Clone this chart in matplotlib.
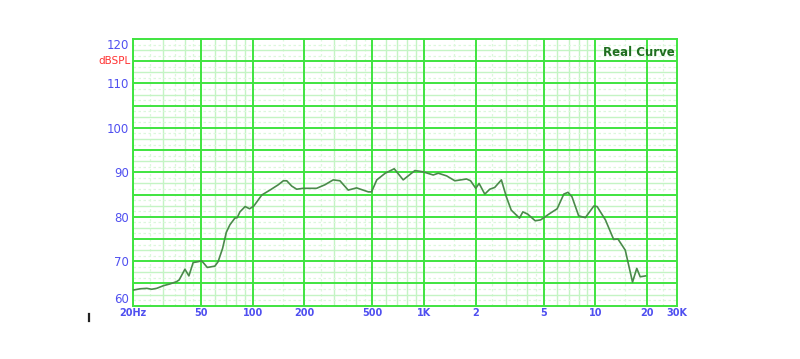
import matplotlib
matplotlib.use('Agg')
import matplotlib.pyplot as plt
from matplotlib.lines import Line2D
import numpy as np

# frequency response (Hz, dB SPL)
freq = [20, 22, 24.1, 25.7, 27.5, 30.1, 32.9, 35.9, 37.2, 40.2, 42.4, 44.9, 48.0, 50.3,
        51.9, 54.3, 60.1, 62.8, 66.7, 70.1, 73.6, 78.7, 81.2, 84.2, 90.3, 95.9, 101.4,
        113, 126, 141, 151, 158, 169, 180.6, 197, 216, 236, 264, 295, 323, 361, 404,
        473, 494, 530, 594, 670, 756, 885, 990, 1132, 1212, 1355, 1514, 1772, 1870,
        2005, 2097, 2264, 2421, 2588, 2830, 3025, 3230, 3610, 3776, 4030, 4460, 4800,
        5360, 5990, 6550, 6930, 7310, 8000, 8750, 9800, 10250, 11460, 12800, 13560,
        14960, 16500, 17470, 18290, 19660]
spl = [63.5, 63.8, 63.9, 63.7, 63.9, 64.5, 64.9, 65.4, 65.8, 68.2, 66.7, 69.7, 69.9, 70.1,
       69.5, 68.6, 68.9, 69.9, 72.9, 76.5, 78.2, 79.7, 79.8, 81.1, 82.3, 81.8, 82.4,
       84.9, 86.0, 87.2, 88.1, 88.1, 86.9, 86.2, 86.4, 86.4, 86.4, 87.2, 88.3, 88.1,
       86.0, 86.5, 85.6, 85.6, 88.3, 89.8, 90.8, 88.3, 90.4, 90.1, 89.4, 89.8, 89.2,
       88.1, 88.5, 88.1, 86.4, 87.5, 85.1, 86.2, 86.6, 88.3, 84.5, 81.5, 79.7, 81.1,
       80.6, 79.1, 79.3, 80.6, 81.8, 85.1, 85.5, 84.5, 80.2, 79.8, 82.4, 82.3, 79.3,
       74.9, 75.0, 72.5, 65.3, 68.4, 66.5, 66.7]

x_major = [20, 50, 100, 200, 500, 1000, 2000, 5000, 10000, 20000]
x_labels = ['20Hz', '50', '100', '200', '500', '1K', '2', '5', '10', '20', '30K']
y_labels = [60, 70, 80, 90, 100, 110, 120]

fig = plt.figure(figsize=(8, 3.59), dpi=100)
ax = fig.add_axes([0.16625, 0.1485, 0.68, 0.743])
ax.set_xscale('log')
ax.set_xlim(20, 30000)
ax.set_ylim(60, 120)

major_c = '#3fe43f'
minor_c = '#c4f4c4'
faint_c = '#dcf8dc'

# vertical grid
for dec in [10, 100, 1000, 10000]:
    for m in range(2, 10):
        f = m * dec
        if 20 < f < 30000 and f not in x_major:
            ax.axvline(f, color=minor_c, lw=1.0, zorder=1)
    for m in [1.5, 2.5, 3.5, 4.5]:
        f = m * dec
        if 20 < f < 30000:
            ax.axvline(f, color=faint_c, lw=0.9, ls=(0, (2, 2)), zorder=1)
for f in x_major:
    ax.axvline(f, color=major_c, lw=1.4, zorder=2)

# horizontal grid
for v in np.arange(61.25, 120, 1.25):
    if v % 5 == 0:
        ax.axhline(v, color=major_c, lw=1.4, zorder=2)
    elif v % 2.5 == 0:
        ax.axhline(v, color=minor_c, lw=1.0, zorder=1)
    else:
        ax.axhline(v, color=faint_c, lw=0.9, ls=(0, (2, 2)), zorder=1)

for s in ax.spines.values():
    s.set_color(major_c)
    s.set_linewidth(1.4)

ax.plot(freq, spl, color='#4a8a4a', lw=1.2, zorder=5)

ax.set_xticks(x_major + [30000])
ax.set_xticklabels(x_labels)
ax.set_xticks([], minor=True)
ax.set_yticks(y_labels)
ax.set_yticklabels([str(v) for v in y_labels])
ax.tick_params(axis='both', length=0, colors='#5050f0')
ax.tick_params(axis='x', labelsize=7, pad=2)
ax.tick_params(axis='y', labelsize=8.5, pad=3)
for t in ax.get_xticklabels():
    t.set_fontweight('bold')
ylabs = ax.get_yticklabels()
ylabs[0].set_va('bottom')
ylabs[-1].set_va('top')

ax.text(-0.005, 115, 'dBSPL', transform=ax.get_yaxis_transform(), ha='right', va='center',
        color='#ff3333', fontsize=7.5)
ax.text(0.996, 0.975, 'Real Curve', transform=ax.transAxes, ha='right', va='top',
        color='#1e6e1e', fontsize=8.5, fontweight='bold')

fig.add_artist(Line2D([0.111, 0.111], [0.105, 0.125], color='#222222', lw=1.6))

fig.savefig('out.png', dpi=100)
